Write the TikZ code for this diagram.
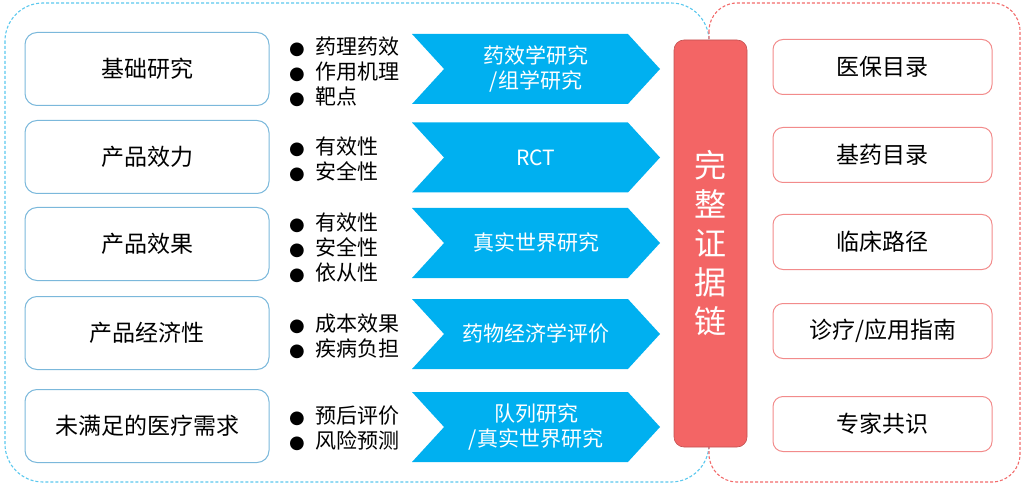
\documentclass[tikz,border=0pt]{standalone}
\usepackage{fontspec}
\setmainfont{Noto Sans CJK SC}
\newfontfamily\symfont{DejaVu Sans}
\usepackage{tikz}
\usetikzlibrary{shapes.symbols}

\definecolor{arrowblue}{HTML}{00B0F0}
\definecolor{chainred}{HTML}{F36565}
\definecolor{lboxblue}{HTML}{7BB8DB}
\definecolor{rboxred}{HTML}{F28B8B}
\definecolor{dashblue}{HTML}{5BC8EE}
\definecolor{dashred}{HTML}{F26B6B}

\newcommand{\itembul}{{\symfont\fontsize{18}{25}\selectfont ●}\hspace{11pt}}

\begin{document}
\begin{tikzpicture}[x = 1pt, y = -1pt]

  \tikzstyle{lbox} = [draw = lboxblue, line width = 1pt, rounded corners = 12pt,
    minimum width = 244pt, minimum height = 73pt, font = \fontsize{23}{27}\selectfont]
  \tikzstyle{rbox} = [draw = rboxred, line width = 1pt, rounded corners = 10pt,
    minimum width = 219pt, minimum height = 55pt, font = \fontsize{23}{27}\selectfont]
  \tikzstyle{items} = [anchor = west, align = left, inner sep = 0pt,
    font = \fontsize{21}{25}\selectfont]
  \tikzstyle{chev} = [signal, signal from = west, signal to = east, signal pointer angle = 95,
    fill = arrowblue, text = white, align = center, inner sep = 0pt,
    minimum width = 248pt, minimum height = 70pt, font = \fontsize{21}{25}\selectfont]
  \tikzstyle{chain} = [fill = chainred, draw = chainred!80!black, line width = 0.6pt,
    rounded corners = 10pt, minimum width = 73pt, minimum height = 407pt,
    text = white, align = center, font = \fontsize{32}{39}\selectfont]
  \tikzstyle{frame} = [line width = 1.1pt, dash pattern = on 3pt off 2pt]

  \useasboundingbox (0,0) rectangle (1024,486);

  \draw[frame, draw = dashblue, rounded corners = 38pt] (5,3) rectangle (709,482);
  \draw[frame, draw = dashred, rounded corners = 28pt] (709,3) rectangle (1020,482);

  \node[lbox] (basic) at (147,69) {基础研究};
  \node[lbox] (efficacy) at (147,157) {产品效力};
  \node[lbox] (effect) at (147,244) {产品效果};
  \node[lbox] (econ) at (147,333) {产品经济性};
  \node[lbox] (unmet) at (147,426) {未满足的医疗需求};

  \node[items] (basicpts) at (289,72) {\itembul 药理药效\\ \itembul 作用机理\\ \itembul 靶点};
  \node[items] (efficacypts) at (289,159) {\itembul 有效性\\ \itembul 安全性};
  \node[items] (effectpts) at (289,248) {\itembul 有效性\\ \itembul 安全性\\ \itembul 依从性};
  \node[items] (econpts) at (289,336) {\itembul 成本效果\\ \itembul 疾病负担};
  \node[items] (unmetpts) at (289,428) {\itembul 预后评价\\ \itembul 风险预测};

  \node[chev] (basicstudy) at (536,69) {药效学研究\\/组学研究};
  \node[chev] (rct) at (536,157.5) {RCT};
  \node[chev] (rwe) at (536,243) {真实世界研究};
  \node[chev] (pe) at (536,334) {药物经济学评价};
  \node[chev] (cohort) at (536,427) {队列研究\\/真实世界研究};

  \node[chain] (chain) at (710.5,243.5) {完\\整\\证\\据\\链};

  \node[rbox] (insure) at (882.5,67) {医保目录};
  \node[rbox] (essential) at (882.5,155) {基药目录};
  \node[rbox] (pathway) at (882.5,242) {临床路径};
  \node[rbox] (guide) at (882.5,331) {诊疗/应用指南};
  \node[rbox] (consensus) at (882.5,424) {专家共识};
\end{tikzpicture}
\end{document}
